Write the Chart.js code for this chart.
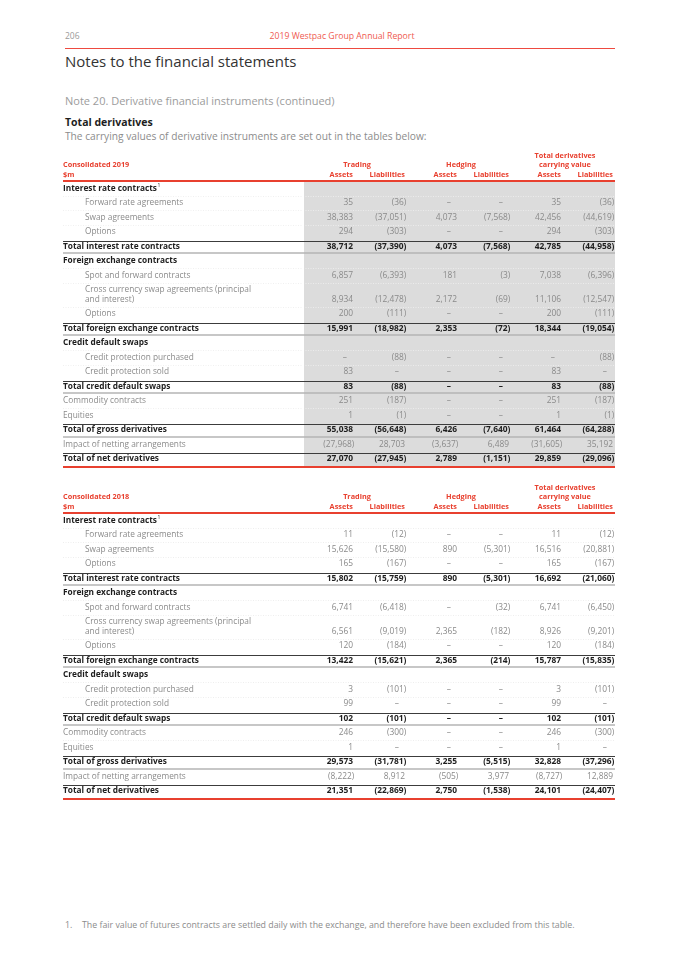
<!DOCTYPE html>
<html><head><meta charset="utf-8">
<script src="https://cdn.jsdelivr.net/npm/chart.js@4.4.1/dist/chart.umd.min.js"></script>
<style>
html,body{margin:0;padding:0;background:#fff;}
body{width:680px;height:962px;position:relative;overflow:hidden;font-family:"Open Sans",sans-serif;}
.t{position:absolute;white-space:nowrap;line-height:1;}
canvas{position:absolute;left:0;}
</style></head><body>
<div class="t" style="left:65px;top:32px;font-size:8.5px;color:#9a9a9a;">206</div>
<div class="t" style="left:0;width:684px;text-align:center;top:32px;font-size:8.7px;color:#ef5a50;">2019 Westpac Group Annual Report</div>
<div style="position:absolute;left:65px;top:47.5px;width:550px;height:1.5px;background:#ee4a40;"></div>
<div class="t" style="left:65px;top:53.5px;font-size:15px;color:#333;">Notes to the financial statements</div>
<div class="t" style="left:65px;top:94.6px;font-size:11px;color:#9c9c9c;">Note 20. Derivative financial instruments (continued)</div>
<div class="t" style="left:65px;top:117px;font-size:10.5px;font-weight:700;color:#1e1e1e;">Total derivatives</div>
<div class="t" style="left:65px;top:131px;font-size:10.2px;color:#8c8c8c;">The carrying values of derivative instruments are set out in the tables below:</div>
<canvas id="t2019" width="680" height="331" style="top:140px;width:680px;height:331px;"></canvas>
<canvas id="t2018" width="680" height="331" style="top:472px;width:680px;height:331px;"></canvas>
<div class="t" style="left:65px;top:921px;font-size:8.8px;color:#8c8c8c;">1.</div>
<div class="t" style="left:82px;top:921px;font-size:8.8px;color:#8c8c8c;">The fair value of futures contracts are settled daily with the exchange, and therefore have been excluded from this table.</div>
<script>
// ---------- DATA ----------
const COLUMN_LABELS = ['Assets','Liabilities','Assets','Liabilities','Assets','Liabilities'];
const GROUP_LABELS = [['Trading'],['Hedging'],['Total derivatives','carrying value']];
const ROW_LABELS = ['Interest rate contracts','Forward rate agreements','Swap agreements','Options',
  'Total interest rate contracts','Foreign exchange contracts','Spot and forward contracts',
  ['Cross currency swap agreements (principal','and interest)'],'Options','Total foreign exchange contracts',
  'Credit default swaps','Credit protection purchased','Credit protection sold','Total credit default swaps',
  'Commodity contracts','Equities','Total of gross derivatives','Impact of netting arrangements','Total of net derivatives'];
const ROW_KINDS = ['head','item','item','item','total','head','item','item','item','total',
  'head','item','item','total','plain','plain','total','plain','total'];
const ROW_NOTES = ['1','','','','','','','','','','','','','','','','','',''];

const tradingAssets2019  = [null,35,38383,294,38712,null,6857,8934,200,15991,null,null,83,83,251,1,55038,-27968,27070];
const tradingLiab2019    = [null,-36,-37051,-303,-37390,null,-6393,-12478,-111,-18982,null,-88,null,-88,-187,-1,-56648,28703,-27945];
const hedgingAssets2019  = [null,null,4073,null,4073,null,181,2172,null,2353,null,null,null,null,null,null,6426,-3637,2789];
const hedgingLiab2019    = [null,null,-7568,null,-7568,null,-3,-69,null,-72,null,null,null,null,null,null,-7640,6489,-1151];
const totalAssets2019    = [null,35,42456,294,42785,null,7038,11106,200,18344,null,null,83,83,251,1,61464,-31605,29859];
const totalLiab2019      = [null,-36,-44619,-303,-44958,null,-6396,-12547,-111,-19054,null,-88,null,-88,-187,-1,-64288,35192,-29096];

const tradingAssets2018  = [null,11,15626,165,15802,null,6741,6561,120,13422,null,3,99,102,246,1,29573,-8222,21351];
const tradingLiab2018    = [null,-12,-15580,-167,-15759,null,-6418,-9019,-184,-15621,null,-101,null,-101,-300,null,-31781,8912,-22869];
const hedgingAssets2018  = [null,null,890,null,890,null,null,2365,null,2365,null,null,null,null,null,null,3255,-505,2750];
const hedgingLiab2018    = [null,null,-5301,null,-5301,null,-32,-182,null,-214,null,null,null,null,null,null,-5515,3977,-1538];
const totalAssets2018    = [null,11,16516,165,16692,null,6741,8926,120,15787,null,3,99,102,246,1,32828,-8727,24101];
const totalLiab2018      = [null,-12,-20881,-167,-21060,null,-6450,-9201,-184,-15835,null,-101,null,-101,-300,null,-37296,12889,-24407];

// ---------- STYLE ----------
const RED = '#e8402f', DARK = '#1e1e1e', LIGHT = '#8a8a8a';
const FONT = '"Open Sans", sans-serif';
const LABEL_X = 63, INDENT_X = 85, LINE_GAP = 0.66;
const LABEL_SIZE = 8.3, NUM_SIZE = 8.4, HEAD_SIZE = 7.3;

Chart.defaults.font.family = FONT;

// row positions derived from label line counts
const rowPos = [];
(function(){ let p = 0; ROW_LABELS.forEach((l, i) => { const n = Array.isArray(l) ? l.length : 1; if (i > 0) p += 1 + (n - 1) * LINE_GAP; rowPos.push(p); }); })();
const rowTop = ROW_LABELS.map((l, i) => rowPos[i] - ((Array.isArray(l) ? l.length : 1) - 1) * LINE_GAP);

function fmt(v) {
  if (v === null || v === undefined) return '\u2013';
  const s = Math.abs(v).toLocaleString('en-US');
  return v < 0 ? '(' + s + ')' : s;
}

const tablePlugin = {
  id: 'fintable',
  beforeDatasetsDraw(chart, args, opts) {
    const {ctx, chartArea: a, scales: {y}} = chart;
    ctx.save();
    if (opts.shade) {
      ctx.fillStyle = opts.shade;
      ctx.fillRect(a.left + 1, a.top, a.right - a.left - 1, a.bottom - a.top);
    }
    // faint row separators
    ctx.lineWidth = 1;
    ctx.setLineDash([1, 1.5]);
    for (let r = 1; r < ROW_LABELS.length; r++) {
      if (ROW_KINDS[r] === 'total' || ROW_KINDS[r - 1] === 'total') continue;
      const yy = Math.round(y.getPixelForValue(rowTop[r] - 0.5)) + 0.5;
      if (opts.shade) {
        ctx.strokeStyle = 'rgba(0,0,0,0.06)';
        ctx.beginPath(); ctx.moveTo(LABEL_X, yy); ctx.lineTo(a.left, yy); ctx.stroke();
        ctx.strokeStyle = 'rgba(255,255,255,0.45)';
        ctx.beginPath(); ctx.moveTo(a.left, yy); ctx.lineTo(a.right, yy); ctx.stroke();
      } else {
        ctx.strokeStyle = 'rgba(0,0,0,0.065)';
        ctx.beginPath(); ctx.moveTo(LABEL_X, yy); ctx.lineTo(a.right, yy); ctx.stroke();
      }
    }
    ctx.setLineDash([]);
    // total row rules
    ROW_KINDS.forEach((k, r) => {
      if (k !== 'total') return;
      const yTop = Math.round(y.getPixelForValue(rowPos[r] - 0.4)) + 0.5;
      ctx.strokeStyle = '#3c3c3c'; ctx.lineWidth = 1;
      ctx.beginPath(); ctx.moveTo(LABEL_X, yTop); ctx.lineTo(a.right, yTop); ctx.stroke();
      if (r < ROW_LABELS.length - 1) {
        const yBot = Math.round(y.getPixelForValue(rowPos[r] + 0.45));
        ctx.strokeStyle = '#b4b4b4'; ctx.lineWidth = 1.6;
        ctx.beginPath(); ctx.moveTo(LABEL_X, yBot); ctx.lineTo(a.right, yBot); ctx.stroke();
      }
    });
    // red header and footer rules
    ctx.fillStyle = RED;
    ctx.fillRect(LABEL_X, a.top - 2, a.right - LABEL_X, 2);
    ctx.fillRect(LABEL_X, a.bottom - 1, a.right - LABEL_X, 2);
    ctx.restore();
  },
  afterDatasetsDraw(chart, args, opts) {
    const {ctx, chartArea: a, scales: {x, y}} = chart;
    const half = (x.getPixelForValue(1) - x.getPixelForValue(0)) / 2;
    const edge = c => x.getPixelForValue(c) + half - 2;
    ctx.save();
    ctx.textBaseline = 'middle';
    // header block
    ctx.fillStyle = RED;
    ctx.font = '700 ' + HEAD_SIZE + 'px ' + FONT;
    ctx.textAlign = 'left';
    ctx.fillText(opts.title, LABEL_X, a.top - 17.5);
    ctx.fillText('$m', LABEL_X, a.top - 7);
    ctx.textAlign = 'right';
    COLUMN_LABELS.forEach((l, c) => ctx.fillText(l, edge(c), a.top - 7));
    ctx.textAlign = 'center';
    GROUP_LABELS.forEach((g, gi) => {
      const cx = (x.getPixelForValue(gi * 2) + x.getPixelForValue(gi * 2 + 1)) / 2 + 2;
      g.forEach((line, li) => ctx.fillText(line, cx, a.top - 17.5 - (g.length - 1 - li) * 8.5));
    });
    // row labels
    ctx.textAlign = 'left';
    ROW_LABELS.forEach((l, r) => {
      const k = ROW_KINDS[r];
      const bold = k === 'head' || k === 'total';
      ctx.font = (bold ? '700 ' : '400 ') + LABEL_SIZE + 'px ' + FONT;
      ctx.fillStyle = bold ? DARK : LIGHT;
      const lx = k === 'item' ? INDENT_X : LABEL_X;
      const lines = Array.isArray(l) ? l : [l];
      lines.forEach((s, li) => {
        const yy = y.getPixelForValue(rowPos[r] - (lines.length - 1 - li) * LINE_GAP);
        ctx.fillText(s, lx, yy);
        if (li === lines.length - 1 && ROW_NOTES[r]) {
          const w = ctx.measureText(s).width;
          ctx.font = '400 5px ' + FONT;
          ctx.fillText(ROW_NOTES[r], lx + w + 0.5, yy - 2.5);
        }
      });
    });
    // cells from the dataset's point elements
    const meta = chart.getDatasetMeta(0);
    const raw = chart.data.datasets[0].data;
    meta.data.forEach((el, i) => {
      const d = raw[i];
      const bold = ROW_KINDS[d.row] === 'total';
      ctx.font = (bold ? '700 ' : '400 ') + NUM_SIZE + 'px ' + FONT;
      ctx.fillStyle = bold ? DARK : LIGHT;
      ctx.textAlign = 'right';
      const ex = el.x + half - 2;
      const s = fmt(d.v);
      let xx = ex;
      if (d.v === null) xx = ex - 6;
      else if (d.v < 0) xx = ex + ctx.measureText(')').width * 0.5;
      ctx.fillText(s, xx, el.y);
    });
    ctx.restore();
  }
};

function buildTable(id, title, columns, shade) {
  const data = [];
  ROW_LABELS.forEach((l, r) => {
    if (ROW_KINDS[r] === 'head') return;
    columns.forEach((col, c) => data.push({x: c, y: rowPos[r], v: col[r], row: r}));
  });
  const last = rowPos[rowPos.length - 1];
  return new Chart(document.getElementById(id), {
    type: 'scatter',
    data: {datasets: [{data, pointRadius: 0, pointHoverRadius: 0, showLine: false}]},
    options: {
      responsive: false, animation: false, events: [],
      layout: {padding: {left: 303, right: 65, top: 42, bottom: 4}},
      scales: {
        x: {type: 'linear', min: -0.5, max: COLUMN_LABELS.length - 0.5, display: false},
        y: {type: 'linear', reverse: true, min: -0.45, max: last + 0.55, display: false}
      },
      plugins: {legend: {display: false}, tooltip: {enabled: false},
        fintable: {title, shade}}
    },
    plugins: [tablePlugin]
  });
}

buildTable('t2019', 'Consolidated 2019',
  [tradingAssets2019, tradingLiab2019, hedgingAssets2019, hedgingLiab2019, totalAssets2019, totalLiab2019], '#dcdcdc');
buildTable('t2018', 'Consolidated 2018',
  [tradingAssets2018, tradingLiab2018, hedgingAssets2018, hedgingLiab2018, totalAssets2018, totalLiab2018], null);
</script>
</body></html>
